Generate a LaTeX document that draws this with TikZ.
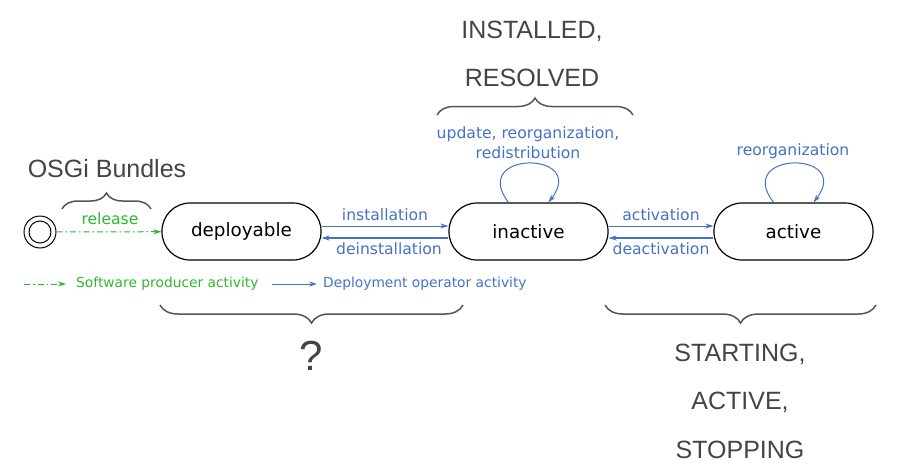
\documentclass[tikz,border=0pt]{standalone}
\usepackage{fontspec}
\setmainfont{DejaVu Sans}
\newfontfamily\bigfont{Liberation Sans}
\usetikzlibrary{arrows.meta,decorations.pathreplacing}
\definecolor{opblue}{RGB}{68,114,196}
\definecolor{prodgreen}{RGB}{45,185,45}
\definecolor{notegray}{RGB}{68,68,68}
\definecolor{bracegray}{RGB}{85,85,85}

\begin{document}
\begin{tikzpicture}[
        x=1pt, y=1pt,
        state/.style={rectangle, draw, line width=1.2pt, rounded corners=28pt, minimum width=159pt, minimum height=57pt, font=\fontsize{18.3}{20}\selectfont},
        flowtext/.style={text=opblue, inner sep=0pt, align=center, font=\fontsize{15.6}{20}\selectfont},
        legendtext/.style={inner sep=0pt, anchor=west, font=\fontsize{13.8}{16}\selectfont},
        note/.style={text=notegray, inner sep=0pt, align=center, font=\bigfont\fontsize{25}{48.5}\selectfont},
        opflow/.style={draw=opblue, line width=1pt, -{Stealth[length=8pt,width=5pt]}},
        opback/.style={opflow, line width=2pt},
        prodflow/.style={draw=prodgreen, line width=1pt, dash pattern=on 6pt off 3pt on 1.5pt off 3pt, -{Stealth[length=8pt,width=5pt]}},
        curly/.style={draw=bracegray, line width=1.5pt, decorate, decoration={brace, amplitude=#1}}
    ]
    \useasboundingbox (0,0) rectangle (898,-469);

    % States
    \node[circle, draw, line width=1pt, minimum size=32pt, inner sep=0pt] (start) at (40,-232) {};
    \node[circle, draw, line width=1pt, minimum size=22pt, inner sep=0pt] (startinner) at (40,-232) {};
    \node[state] (deployable) at (241.5,-231.5) {deployable};
    \node[state] (inactive) at (528.5,-231.5) {inactive};
    \node[state] (active) at (793.5,-231.5) {active};

    % Transitions
    \draw[prodflow] (start) -- (deployable);
    \node[flowtext, text=prodgreen] (release) at (110,-219) {release};

    \draw[opflow] ([yshift=5.5pt]deployable.east) -- ([yshift=5.5pt]inactive.west);
    \draw[opback] ([yshift=-6.5pt]inactive.west) -- ([yshift=-6.5pt]deployable.east);
    \node[flowtext] (installation) at (385,-215) {installation};
    \node[flowtext] (deinstallation) at (389,-249) {deinstallation};

    \draw[opflow] ([yshift=5.5pt]inactive.east) -- ([yshift=5.5pt]active.west);
    \draw[opback] ([yshift=-6.5pt]active.west) -- ([yshift=-6.5pt]inactive.east);
    \node[flowtext] (activation) at (661,-215) {activation};
    \node[flowtext] (deactivation) at (661,-249) {deactivation};

    % Self loops
    \coordinate (inloopA) at ([xshift=-20pt]inactive.north);
    \coordinate (inloopB) at ([xshift=20pt]inactive.north);
    \draw[opflow] (inloopA) .. controls +(-40,52) and +(40,52) .. (inloopB);
    \node[flowtext] (update) at (528,-143) {update, reorganization,\\redistribution};

    \coordinate (acloopA) at ([xshift=-20pt]active.north);
    \coordinate (acloopB) at ([xshift=20pt]active.north);
    \draw[opflow] (acloopA) .. controls +(-40,52) and +(40,52) .. (acloopB);
    \node[flowtext] (reorg) at (793,-151) {reorganization};

    % Legend
    \coordinate (prodA) at (24,-284);
    \coordinate (prodB) at (66,-284);
    \draw[prodflow] (prodA) -- (prodB);
    \node[legendtext, text=prodgreen] (prodlegend) at (76,-284) {Software producer activity};
    \coordinate (opA) at (272,-284);
    \coordinate (opB) at (317,-284);
    \draw[opflow] (opA) -- (opB);
    \node[legendtext, text=opblue] (oplegend) at (323,-284) {Deployment operator activity};

    % Braces and OSGi states
    \coordinate (osgiL) at (62,-209);
    \coordinate (osgiR) at (151,-209);
    \draw[curly=16pt] (osgiL) -- (osgiR);
    \node[note] (bundles) at (107,-169) {OSGi Bundles};

    \coordinate (resL) at (437,-115);
    \coordinate (resR) at (633,-115);
    \draw[curly=17pt] (resL) -- (resR);
    \node[note] (resolved) at (532,-54) {INSTALLED,\\RESOLVED};

    \coordinate (depL) at (160,-305);
    \coordinate (depR) at (463,-305);
    \draw[curly=18pt] (depR) -- (depL);
    \node[note, font=\bigfont\fontsize{42}{44}\selectfont] (unknown) at (311,-356) {?};

    \coordinate (actL) at (605,-305);
    \coordinate (actR) at (876,-305);
    \draw[curly=18pt] (actR) -- (actL);
    \node[note] (starting) at (740,-401) {STARTING,\\ACTIVE,\\STOPPING};

\end{tikzpicture}
\end{document}
